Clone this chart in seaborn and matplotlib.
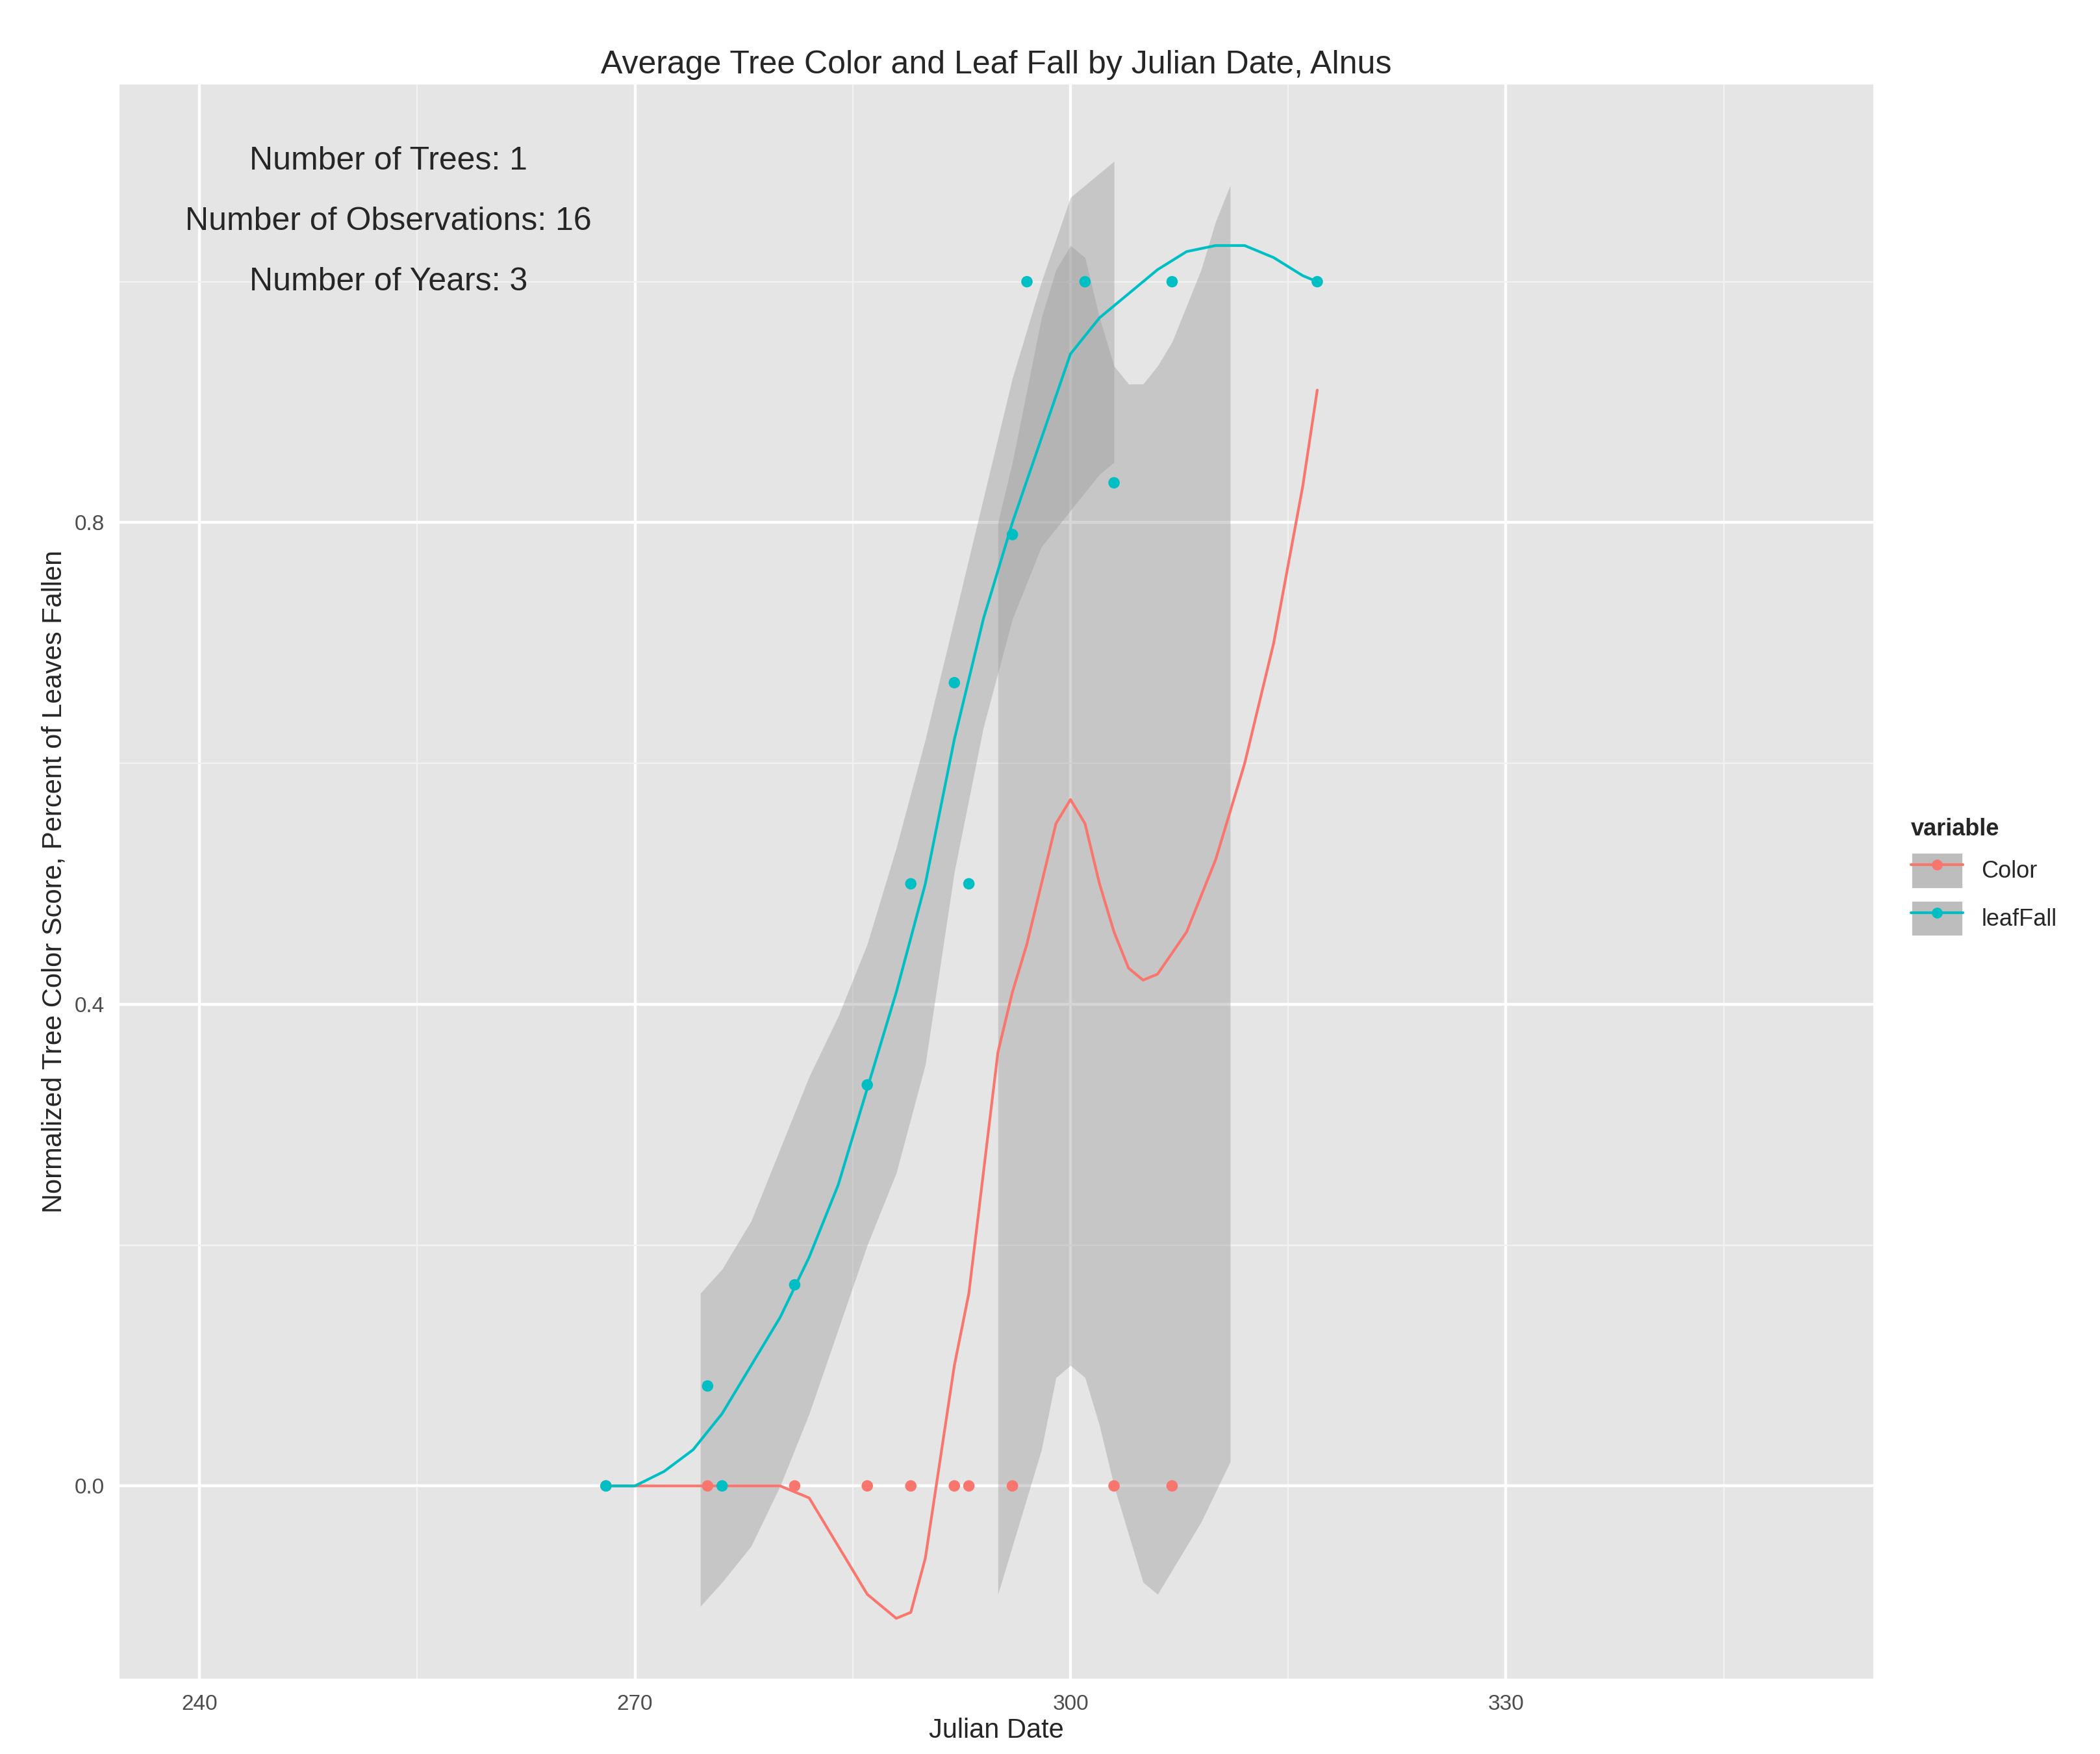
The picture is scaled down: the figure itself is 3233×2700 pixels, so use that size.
import numpy as np
import pandas as pd
import matplotlib
matplotlib.use("Agg")
import matplotlib.pyplot as plt
import seaborn as sns
from matplotlib.lines import Line2D
from matplotlib.patches import Patch

# points
leaf_x = [268, 275, 276, 281, 286, 289, 292, 293, 296, 297, 301, 303, 307, 317]
leaf_y = [0, 0.083, 0, 0.167, 0.333, 0.5, 0.667, 0.5, 0.79, 1.0, 1.0, 0.833, 1.0, 1.0]
color_x = [268, 275, 281, 286, 289, 292, 293, 296, 303, 307]
color_y = [0, 0, 0, 0, 0, 0, 0, 0, 0, 0]

# smooth curves
leaf_sx = [268, 270, 272, 274, 276, 278, 280, 282, 284, 286, 288, 290, 292, 294, 296, 298, 300,
           302, 304, 306, 308, 310, 312, 314, 316, 317]
leaf_sy = [0, 0.0, 0.012, 0.03, 0.06, 0.1, 0.14, 0.19, 0.25, 0.33, 0.41, 0.5, 0.62, 0.72, 0.8,
           0.87, 0.94, 0.97, 0.99, 1.01, 1.025, 1.03, 1.03, 1.02, 1.005, 1.0]
color_sx = [268, 275, 280, 282, 284, 286, 288, 289, 290, 291, 292, 293, 294, 295, 296, 297, 298,
            299, 300, 301, 302, 303, 304, 305, 306, 308, 310, 312, 314, 316, 317]
color_sy = [0, 0, 0, -0.01, -0.05, -0.09, -0.11, -0.105, -0.06, 0.02, 0.1, 0.16, 0.26, 0.36, 0.41,
            0.45, 0.5, 0.55, 0.57, 0.55, 0.5, 0.46, 0.43, 0.42, 0.425, 0.46, 0.52, 0.6, 0.7, 0.83, 0.91]

# confidence ribbons
band1_x = [274.5, 276, 278, 280, 282, 284, 286, 288, 290, 292, 294, 296, 298, 300, 302, 303]
band1_hi = [0.16, 0.18, 0.22, 0.28, 0.34, 0.39, 0.45, 0.53, 0.62, 0.72, 0.82, 0.92, 1.0, 1.07, 1.09, 1.1]
band1_lo = [-0.1, -0.08, -0.05, 0.0, 0.06, 0.13, 0.2, 0.26, 0.35, 0.51, 0.63, 0.72, 0.78, 0.81, 0.84, 0.85]
band2_x = [295, 296, 298, 299, 300, 301, 302, 303, 304, 305, 306, 307, 308, 309, 310, 311]
band2_hi = [0.8, 0.85, 0.97, 1.01, 1.03, 1.02, 0.97, 0.93, 0.915, 0.915, 0.93, 0.95, 0.98, 1.01, 1.05, 1.08]
band2_lo = [-0.09, -0.05, 0.03, 0.09, 0.1, 0.09, 0.05, 0.0, -0.04, -0.08, -0.09, -0.07, -0.05, -0.03, -0.005, 0.02]

RED = "#F8766D"
TEAL = "#00BFC4"

sns.set_style("darkgrid", {"axes.facecolor": "#E5E5E5", "grid.color": "white"})
plt.rcParams['font.family'] = ['Liberation Sans', 'DejaVu Sans']

fig = plt.figure(figsize=(16.165, 13.5), dpi=200)
ax = fig.add_axes([0.057, 0.043, 0.835, 0.909])

ax.fill_between(band1_x, band1_lo, band1_hi, color="#999999", alpha=0.4, lw=0)
ax.fill_between(band2_x, band2_lo, band2_hi, color="#999999", alpha=0.4, lw=0)

sns.lineplot(x=color_sx, y=color_sy, color=RED, lw=1.5, ax=ax)
sns.lineplot(x=leaf_sx, y=leaf_sy, color=TEAL, lw=1.5, ax=ax)
sns.scatterplot(x=color_x, y=color_y, color=RED, s=40, edgecolor="none", ax=ax, zorder=3)
sns.scatterplot(x=leaf_x, y=leaf_y, color=TEAL, s=40, edgecolor="none", ax=ax, zorder=3)

ax.set_xlim(234.5, 355.3)
ax.set_ylim(-0.16, 1.164)
ax.set_xticks([240, 270, 300, 330])
ax.set_xticks([255, 285, 315, 345], minor=True)
ax.set_yticks([0.0, 0.4, 0.8])
ax.set_yticklabels(["0.0", "0.4", "0.8"])
ax.set_yticks([0.2, 0.6, 1.0], minor=True)
ax.grid(which="major", color="white", lw=1.6)
ax.grid(which="minor", color="#F2F2F2", lw=0.8)
ax.tick_params(which="both", length=0, labelsize=12, colors="#4D4D4D")
ax.tick_params(which="major", length=5, color="#4D4D4D")
for s in ax.spines.values():
    s.set_visible(False)

ax.set_xlabel("Julian Date", fontsize=15, labelpad=2)
ax.set_ylabel("Normalized Tree Color Score, Percent of Leaves Fallen", fontsize=15)
ax.set_title("Average Tree Color and Leaf Fall by Julian Date, Alnus", fontsize=18, pad=6)

ax.text(253, 1.1, "Number of Trees: 1", fontsize=18, ha="center", va="center")
ax.text(253, 1.05, "Number of Observations: 16", fontsize=18, ha="center", va="center")
ax.text(253, 1.0, "Number of Years: 3", fontsize=18, ha="center", va="center")

handles = [
    (Patch(facecolor="#BDBDBD", edgecolor="white"),
     Line2D([], [], color=RED, marker="o", markersize=5)),
    (Patch(facecolor="#BDBDBD", edgecolor="white"),
     Line2D([], [], color=TEAL, marker="o", markersize=5)),
]
leg = fig.legend(handles, ["Color", "leafFall"], title="variable",
                 loc="center left", bbox_to_anchor=(0.9, 0.5), frameon=False,
                 fontsize=13, handlelength=2.2, handleheight=2.0)
leg.get_title().set_fontweight("bold")
leg.get_title().set_fontsize(13)
leg._legend_box.align = "left"

fig.savefig("out.png", dpi=200)
